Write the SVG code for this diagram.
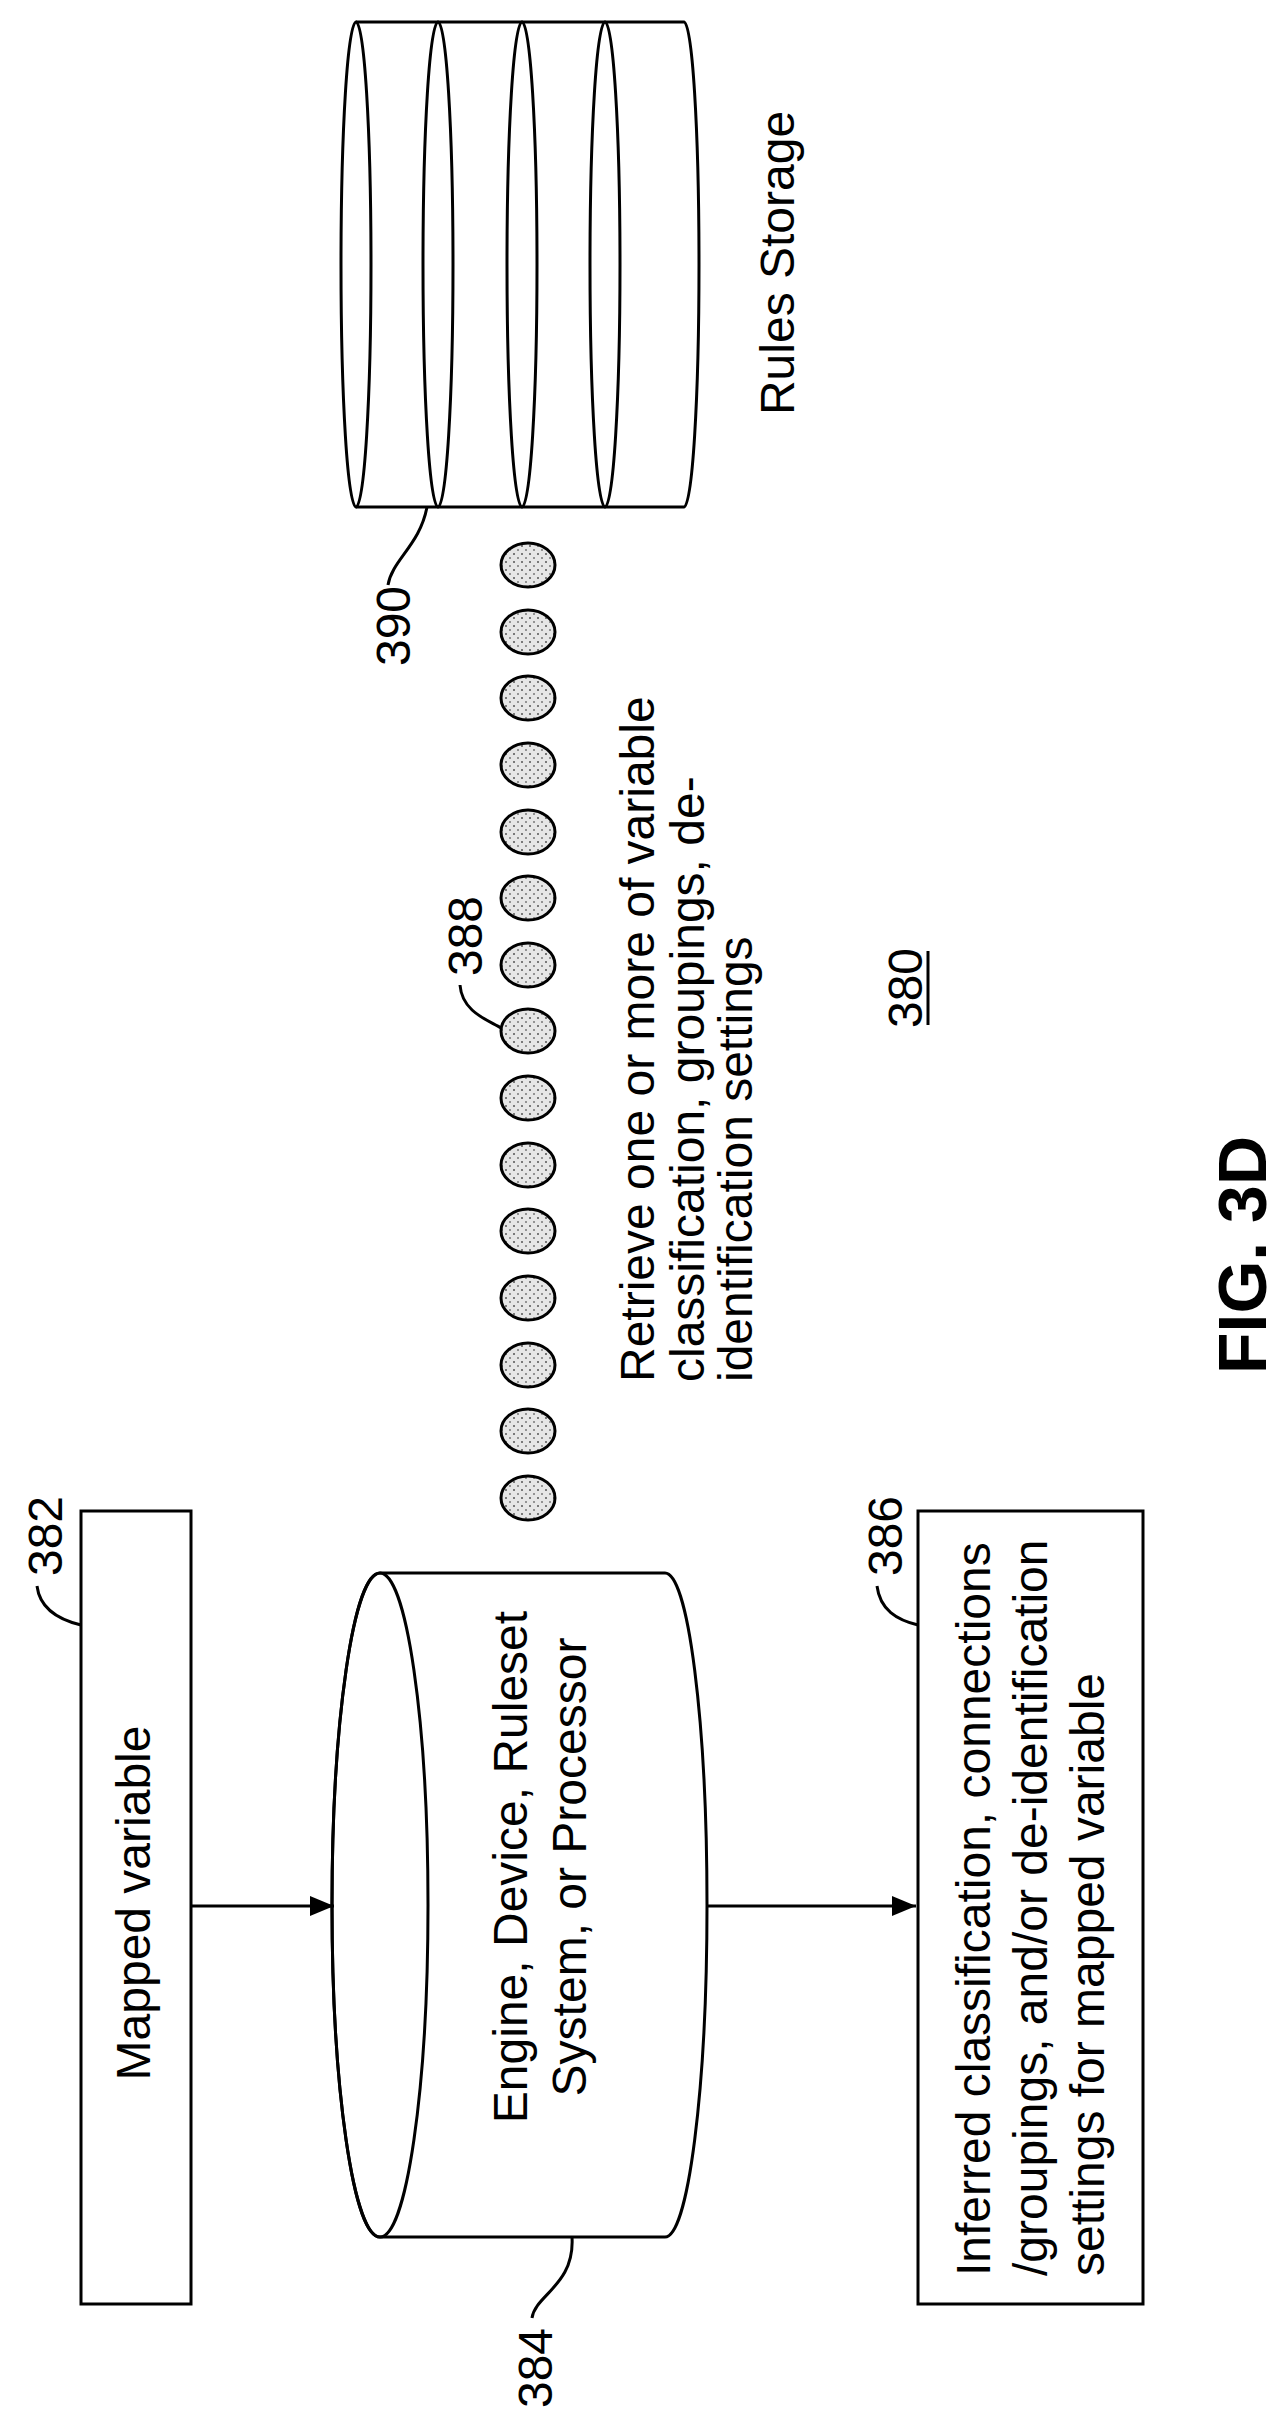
<svg xmlns="http://www.w3.org/2000/svg" width="1287" height="2412" viewBox="0 0 1287 2412">
<style>
.s{fill:none;stroke:#000;stroke-width:3}
.w{fill:#fff;stroke:#000;stroke-width:3}
text{font-family:"Liberation Sans",Arial,sans-serif;font-size:48px;fill:#000}
.c{text-anchor:middle}
.d{fill:url(#st);stroke:#000;stroke-width:3}
</style>
<defs>
<pattern id="st" width="8" height="8" patternUnits="userSpaceOnUse">
<rect width="8" height="8" fill="#e6e6e6"/>
<circle cx="2" cy="2" r="1" fill="#555"/><circle cx="6" cy="6" r="1" fill="#777"/>
</pattern>
<marker id="ah2" markerWidth="24" markerHeight="20" refX="24" refY="10" orient="auto" markerUnits="userSpaceOnUse" viewBox="0 0 24 20"><path d="M0,0 L24,10 L0,20 z" fill="#000"/></marker>
</defs>
<g id="rules-storage">
<path class="s" d="M356,22 L684,22 A15,242.5 0 0 1 684,507 L356,507"/>
<ellipse class="s" cx="356" cy="264.5" rx="15" ry="242.5"/>
<ellipse class="s" cx="438" cy="264.5" rx="15" ry="242.5"/>
<ellipse class="s" cx="522" cy="264.5" rx="15" ry="242.5"/>
<ellipse class="s" cx="605" cy="264.5" rx="15" ry="242.5"/>
<text class="c" transform="translate(794,263) rotate(-90)">Rules Storage</text>
<path class="s" d="M427,507 C420,545 392,560 388,585"/>
<text class="c" transform="translate(410,626) rotate(-90)">390</text>
</g>
<g id="dots">
<ellipse class="d" cx="528" cy="565" rx="27" ry="22"/><ellipse class="d" cx="528" cy="632" rx="27" ry="22"/><ellipse class="d" cx="528" cy="698" rx="27" ry="22"/><ellipse class="d" cx="528" cy="765" rx="27" ry="22"/><ellipse class="d" cx="528" cy="832" rx="27" ry="22"/><ellipse class="d" cx="528" cy="898" rx="27" ry="22"/><ellipse class="d" cx="528" cy="965" rx="27" ry="22"/><ellipse class="d" cx="528" cy="1031" rx="27" ry="22"/><ellipse class="d" cx="528" cy="1098" rx="27" ry="22"/><ellipse class="d" cx="528" cy="1165" rx="27" ry="22"/><ellipse class="d" cx="528" cy="1231" rx="27" ry="22"/><ellipse class="d" cx="528" cy="1298" rx="27" ry="22"/><ellipse class="d" cx="528" cy="1365" rx="27" ry="22"/><ellipse class="d" cx="528" cy="1431" rx="27" ry="22"/><ellipse class="d" cx="528" cy="1498" rx="27" ry="22"/>
<path class="s" d="M501,1028 C488,1020 462,1012 460,985"/>
<text class="c" transform="translate(482,936) rotate(-90)">388</text>
</g>
<g id="retrieve-label">
<text transform="translate(654,1382) rotate(-90)">Retrieve one or more of variable</text>
<text transform="translate(704,1382) rotate(-90)">classification, groupings, de-</text>
<text transform="translate(752,1382) rotate(-90)">identification settings</text>
</g>
<g id="title">
<text class="c" transform="translate(922,988) rotate(-90)">380</text>
<line x1="928" y1="1025" x2="928" y2="951" stroke="#000" stroke-width="3"/>
<text class="c" style="font-size:68px;font-weight:bold" transform="translate(1266,1255) rotate(-90)">FIG. 3D</text>
</g>
<g id="n382">
<rect class="w" x="81" y="1511" width="110" height="793"/>
<text class="c" transform="translate(150,1903) rotate(-90)">Mapped variable</text>
<path class="s" d="M81,1625 C60,1620 40,1610 37,1586"/>
<text class="c" transform="translate(62,1536) rotate(-90)">382</text>
</g>
<g id="n384">
<path class="w" d="M380,1573 L665,1573 A42,332 0 0 1 665,2237 L380,2237 A48,332 0 0 1 380,1573 z"/>
<ellipse class="s" cx="380" cy="1905" rx="48" ry="332"/>
<text class="c" transform="translate(527,1867) rotate(-90)">Engine, Device, Ruleset</text>
<text class="c" transform="translate(586,1867) rotate(-90)">System, or Processor</text>
<path class="s" d="M572,2237 C575,2285 535,2295 532,2318"/>
<text class="c" transform="translate(552,2368) rotate(-90)">384</text>
</g>
<g id="n386">
<rect class="w" x="918" y="1511" width="225" height="793"/>
<text transform="translate(990,2276) rotate(-90)">Inferred classification, connections</text>
<text transform="translate(1047,2276) rotate(-90)">/groupings, and/or de-identification</text>
<text transform="translate(1104,2276) rotate(-90)">settings for mapped variable</text>
<path class="s" d="M918,1625 C897,1620 880,1610 877,1586"/>
<text class="c" transform="translate(902,1536) rotate(-90)">386</text>
</g>
<g id="connectors">
<line class="s" x1="191" y1="1906" x2="334" y2="1906" marker-end="url(#ah2)"/>
<line class="s" x1="707" y1="1906" x2="916" y2="1906" marker-end="url(#ah2)"/>
</g>
</svg>
